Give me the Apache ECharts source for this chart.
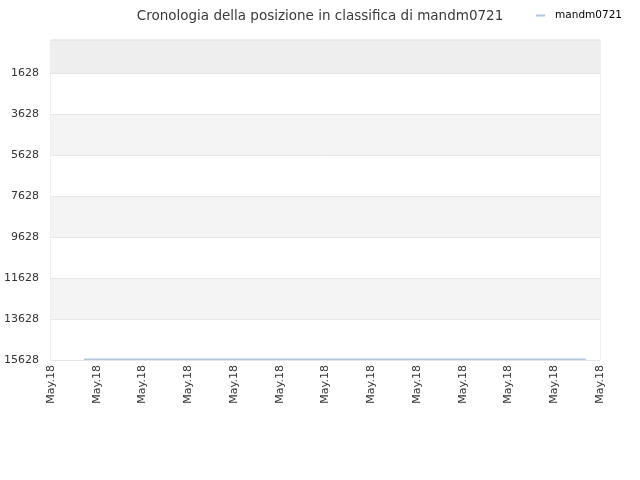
<!DOCTYPE html>
<html>
<head>
<meta charset="utf-8">
<script src="https://cdn.jsdelivr.net/npm/echarts@6/dist/echarts.min.js"></script>
<style>html,body{margin:0;padding:0;background:#fff}#c{width:640px;height:480px}</style>
</head>
<body>
<div id="c"></div>
<script>
var titleText = 'Cronologia della posizione in classifica di mandm0721';
var seriesName = 'mandm0721';
// x: position along the date axis (one tick per label), y: rank
var xTicks = [0, 1, 2, 3, 4, 5, 6, 7, 8, 9, 10, 11, 12];
var xTickLabels = ['May.18','May.18','May.18','May.18','May.18','May.18','May.18','May.18','May.18','May.18','May.18','May.18','May.18'];
var xValues = [0.72, 2, 4, 6, 8, 10, 11.69];
var rankValues = [15590, 15590, 15590, 15590, 15590, 15590, 15590];
var yTickLabels = [1628, 3628, 5628, 7628, 9628, 11628, 13628, 15628];
var yMin = 18;
var yMax = 15628;

var chart = echarts.init(document.getElementById('c'));
chart.setOption({
  animation: false,
  title: {
    text: titleText, left: 'center', top: 4,
    textStyle: {fontSize: 13.5, fontWeight: 'normal', color: '#3a3a3a', fontFamily: 'DejaVu Sans'}
  },
  legend: {
    data: [seriesName], right: 13, top: 5,
    icon: 'rect', itemWidth: 9, itemHeight: 2, itemGap: 5,
    textStyle: {fontSize: 10.5, color: '#000', fontFamily: 'DejaVu Sans', padding: [0, 0, 0, 5]}
  },
  grid: {left: 51, right: 40, top: 40, bottom: 120, outerBoundsMode: 'none', containLabel: false,
         show: true, borderColor: '#dddddd', borderWidth: 1, backgroundColor: 'transparent'},
  xAxis: {
    type: 'value', min: 0, max: 12, interval: 1,
    axisLine: {show: false}, axisTick: {show: false},
    splitLine: {show: false},
    axisLabel: {
      rotate: 90, fontSize: 11, color: '#333', fontFamily: 'DejaVu Sans', margin: 5,
      showMinLabel: true, showMaxLabel: true, hideOverlap: false,
      formatter: function (v) { var i = xTicks.indexOf(Math.round(v)); return i >= 0 ? xTickLabels[i] : ''; }
    }
  },
  yAxis: {
    type: 'value', inverse: true, min: yMin, max: yMax,
    axisLine: {show: false},
    axisTick: {show: false, customValues: [yMin].concat(yTickLabels)},
    axisLabel: {customValues: yTickLabels, fontSize: 11, color: '#333', fontFamily: 'DejaVu Sans', margin: 12,
      formatter: function (v) { return String(v); }},
    splitLine: {show: true, lineStyle: {color: '#e6e6e6', width: 1}},
    splitArea: {show: true, areaStyle: {color: ['#eeeeee','#ffffff','#f4f4f4','#ffffff','#f4f4f4','#ffffff','#f4f4f4','#ffffff']}}
  },
  series: [{
    name: seriesName, type: 'line', symbol: 'none',
    data: xValues.map(function (x, i) { return [x, rankValues[i]]; }),
    lineStyle: {color: '#a3c8f2', width: 1.5},
    itemStyle: {color: '#a3c8f2'}
  }]
});
</script>
</body>
</html>
